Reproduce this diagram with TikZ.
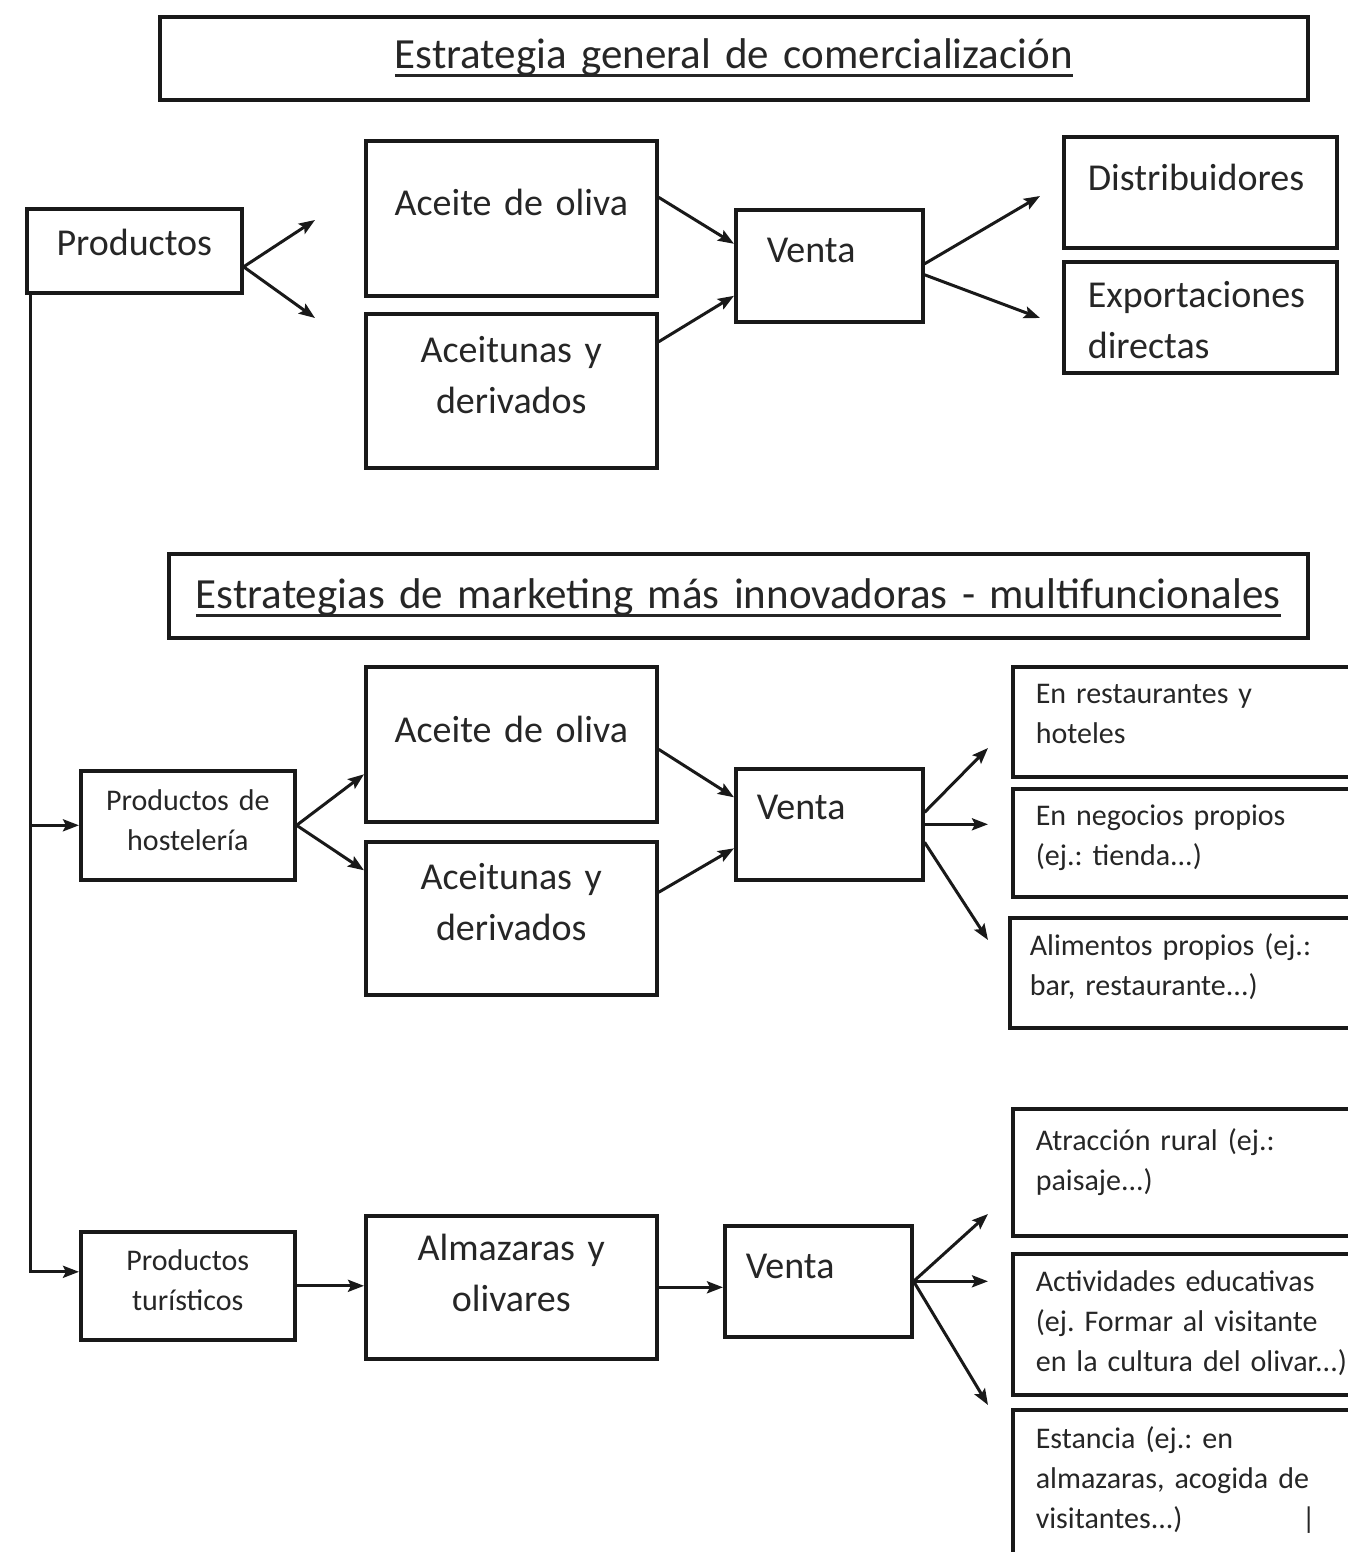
\documentclass[tikz,border=0pt]{standalone}
\usepackage{fontspec}
\setmainfont{Carlito}
\usetikzlibrary{arrows.meta}
\newcommand{\bigtxt}{\fontsize{38}{51}\selectfont}
\newcommand{\smalltxt}{\fontsize{30}{40}\selectfont}
\newcommand{\headtxt}{\fontsize{43}{51}\selectfont}
\newcommand{\ulined}[1]{\setbox0\hbox{#1}\rlap{\rule[-8.5pt]{\wd0}{3pt}}\box0}
\frenchspacing

\begin{document}
\begin{tikzpicture}[x=1pt,y=-1pt,
        cell/.style={draw=black!90,line width=3.6pt,inner sep=0pt,anchor=north west,
                     text=black!85,align=center,font=\bigtxt},
        side/.style={cell,align=left,inner xsep=23pt,text width=314pt,font=\smalltxt},
        arr/.style={draw=black!90,line width=3pt,-{Stealth[length=16pt,width=12pt,inset=3pt]}}
    ]
            \useasboundingbox (0,0) rectangle (1347,1552);

            % Estrategia general
            \node[cell,font=\headtxt,text width=1148pt,text height=51.5pt,text depth=31.5pt] (gen) at (158,15)
                {\ulined{Estrategia general de comercialización}};
            \node[cell,text width=215pt,text height=47pt,text depth=37pt] (prod) at (25,207) {Productos};
            \node[cell,text width=291pt,text height=75pt,text depth=80pt] (oil1) at (364,139) {Aceite de oliva};
            \node[cell,text width=291pt,text height=49pt,text depth=105pt] (olv1) at (364,312) {Aceitunas y\\derivados};
            \node[cell,align=left,inner xsep=31pt,text width=125pt,text height=53pt,text depth=59pt] (sale1) at (734,208) {Venta};
            \node[cell,align=left,inner xsep=24pt,text width=225pt,text height=54pt,text depth=57pt] (dist) at (1062,135) {Distribuidores};
            \node[cell,align=left,inner xsep=24pt,text width=225pt,text height=46pt,text depth=65pt] (expo) at (1062,260) {Exportaciones\\directas};

            % Estrategias multifuncionales
            \node[cell,font=\headtxt,text width=1139pt,text height=54.5pt,text depth=29.5pt] (mkt) at (167,552)
                {\ulined{Estrategias de marketing más innovadoras - multifuncionales}};
            \node[cell,font=\smalltxt,text width=214pt,text height=40pt,text depth=69pt] (hos) at (79,769) {Productos de\\hostelería};
            \node[cell,text width=291pt,text height=76pt,text depth=79pt] (oil2) at (364,665) {Aceite de oliva};
            \node[cell,text width=291pt,text height=48pt,text depth=105pt] (olv2) at (364,840) {Aceitunas y\\derivados};
            \node[cell,align=left,inner xsep=21pt,text width=145pt,text height=51pt,text depth=60pt] (sale2) at (734,767) {Venta};
            \node[side,text height=37pt,text depth=73pt] (rest) at (1011,665) {En restaurantes y\\hoteles};
            \node[side,text height=37pt,text depth=71pt] (nego) at (1011,787) {En negocios propios\\(ej.: tienda...)};
            \node[side,inner xsep=20pt,text width=323pt,text height=38pt,text depth=72pt] (alim) at (1008,916)
                {Alimentos propios (ej.:\\bar, restaurante...)};

            \node[cell,font=\smalltxt,text width=214pt,text height=39pt,text depth=69pt] (tur) at (79,1230) {Productos\\turísticos};
            \node[cell,text width=291pt,text height=45pt,text depth=98pt] (alm) at (364,1214) {Almazaras y\\olivares};
            \node[cell,align=left,inner xsep=21pt,text width=145pt,text height=53pt,text depth=58pt] (sale3) at (723,1224) {Venta};
            \node[side,text height=42pt,text depth=85pt] (atr) at (1011,1107) {Atracción rural (ej.:\\paisaje...)};
            \node[side,text height=38pt,text depth=103pt] (act) at (1011,1252)
                {Actividades educativas\\(ej. Formar al visitante\\en la cultura del olivar...)};
            \node[side,text height=39pt,text depth=160pt] (est) at (1011,1408)
                {Estancia (ej.: en\\almazaras, acogida de\\\makebox[266pt][l]{visitantes...)}|};

            % free arrow ends
            \coordinate (pu) at (315,220);  \coordinate (pd) at (315,318);
            \coordinate (s1a) at (1040,196); \coordinate (s1b) at (1040,318);
            \coordinate (s2a) at (988,748);  \coordinate (s2b) at (988,822);  \coordinate (s2c) at (988,940);
            \coordinate (s3a) at (988,1214); \coordinate (s3b) at (988,1280); \coordinate (s3c) at (988,1405);

            % Arrows
            \draw[arr] ([yshift=-16pt]prod.east) -- (pu);
            \draw[arr] ([yshift=-16pt]prod.east) -- (pd);
            \draw[arr] ([yshift=21pt]oil1.east) -- ([yshift=22pt]sale1.west);
            \draw[arr] ([yshift=49pt]olv1.east) -- ([yshift=-30pt]sale1.west);
            \draw[arr] ([yshift=2pt]sale1.east) -- (s1a);
            \draw[arr] ([yshift=-9pt]sale1.east) -- (s1b);

            \draw[arr] ([xshift=5pt]prod.south west) |- (hos.west);
            \draw[arr] ([xshift=5pt]prod.south west) |- ([yshift=14pt]tur.west);

            \draw[arr] (hos.east) -- ([yshift=-30pt]oil2.west);
            \draw[arr] (hos.east) -- ([yshift=48pt]olv2.west);
            \draw[arr] ([yshift=-5pt]oil2.east) -- ([yshift=27pt]sale2.west);
            \draw[arr] ([yshift=26pt]olv2.east) -- ([yshift=-24pt]sale2.west);
            \draw[arr] ([yshift=12pt]sale2.east) -- (s2a);
            \draw[arr] (sale2.east) -- (sale2.east -| s2b);
            \draw[arr] ([yshift=-18pt]sale2.east) -- (s2c);

            \draw[arr] (tur.east) -- (tur.east -| alm.west);
            \draw[arr] (alm.east) -- (alm.east -| sale3.west);
            \draw[arr] (sale3.east) -- (s3a);
            \draw[arr] (sale3.east) -- (sale3.east -| s3b);
            \draw[arr] (sale3.east) -- (s3c);
        \end{tikzpicture}
\end{document}
